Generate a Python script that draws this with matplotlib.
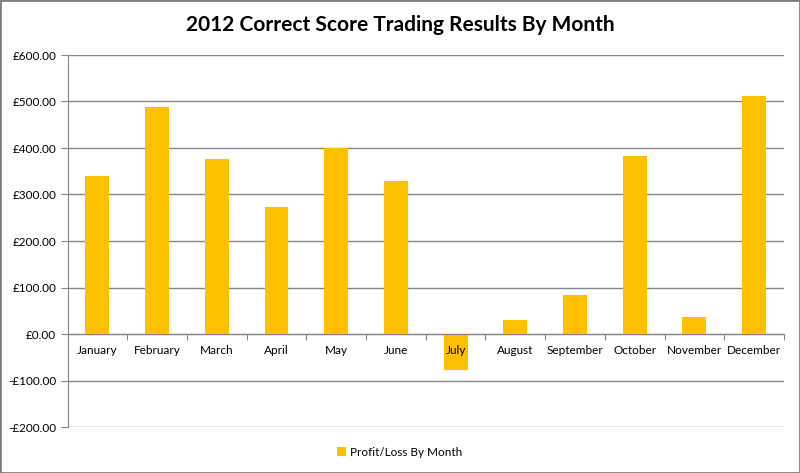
import numpy as np
import matplotlib
matplotlib.use('Agg')
import matplotlib.pyplot as plt
from matplotlib.patches import Rectangle
from matplotlib.ticker import FuncFormatter

months = ["January", "February", "March", "April", "May", "June", "July",
          "August", "September", "October", "November", "December"]
profit = [339, 488, 377, 273, 401, 330, -77, 31, 83, 383, 37, 512]
yticks = [-200, -100, 0, 100, 200, 300, 400, 500, 600]

plt.rcParams['font.family'] = ['Lato', 'DejaVu Sans']

fig = plt.figure(figsize=(8, 4.73), dpi=100)
ax = fig.add_axes([67.5 / 800, 1 - 427 / 473, (784 - 67.5) / 800, (427 - 55) / 473])

x = np.arange(len(months))
for yv in yticks:
    ax.axhline(yv, color='#868686', lw=1, zorder=0.5)
ax.bar(x, profit, width=0.4, color='#FFC000', zorder=1, label="Profit/Loss By Month")

ax.set_xlim(-0.5, len(months) - 0.5)
ax.set_ylim(-200, 600)
ax.set_yticks(yticks)
ax.yaxis.set_major_formatter(FuncFormatter(
    lambda v, p: ("-£%.2f" % abs(v)) if v < 0 else ("£%.2f" % v)))
ax.tick_params(axis='y', length=5, color='#868686', labelsize=8.5, pad=3)

# category axis sits on the zero line
ax.spines['bottom'].set_position(('data', 0))
ax.set_xticks(np.arange(len(months) + 1) - 0.5)
ax.set_xticklabels([])
ax.set_xticks(x, minor=True)
ax.set_xticklabels(months, minor=True)
ax.tick_params(axis='x', which='major', length=4, color='#868686')
ax.tick_params(axis='x', which='minor', length=0, labelsize=8.5, pad=8)

for s in ['top', 'right']:
    ax.spines[s].set_visible(False)
for s in ['left', 'bottom']:
    ax.spines[s].set_color('#868686')

fig.text(0.5, 1 - 25 / 473, "2012 Correct Score Trading Results By Month",
         ha='center', va='center', fontsize=15, fontweight='bold')

fig.legend(loc='center', bbox_to_anchor=(0.5, 1 - 452 / 473), frameon=False,
           fontsize=8.5, handlelength=0.7, handleheight=0.7, handletextpad=0.4)

fig.patches.append(Rectangle((0, 0), 1, 1, transform=fig.transFigure,
                             fill=False, edgecolor='#7f7f7f', lw=2))

fig.savefig("out.png", dpi=100)
